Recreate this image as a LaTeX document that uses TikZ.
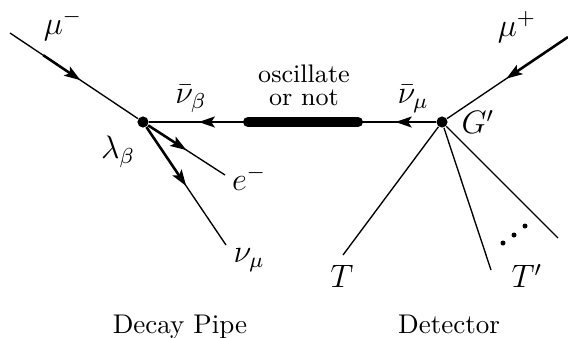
\documentclass[tikz,border=0pt]{standalone}
\usepackage{amsmath}
\usetikzlibrary{arrows.meta, decorations.markings, calc}
\tikzset{
  fermion/.style={
    postaction={decorate},
    decoration={markings, mark=at position #1 with {\arrow{Stealth[length=6pt, width=4pt, inset=1.3pt]}}}
  },
  fermion/.default=0.5,
  thinline/.style={line width=0.5pt},
  heavy/.style={line width=0.95pt},
  arrowed/.style={heavy, -{Stealth[length=6pt, width=4pt, inset=1.3pt]}},
  vertex/.style={circle, fill=black, inner sep=0pt, minimum size=1.45mm},
  tinydot/.style={circle, fill=black, inner sep=0pt, minimum size=0.65mm},
  lbl/.style={inner sep=1pt, font=\large},
  caption/.style={inner sep=0pt, anchor=base},
  osctext/.style={caption, font=\fontsize{9.4pt}{10pt}\selectfont},
}
\begin{document}
\begin{tikzpicture}[x=0.13mm, y=-0.13mm]
\useasboundingbox (0,0) rectangle (568,337);

%% --- vertices and free ends ------------------------------------------------
\node[vertex] (vL) at (143,122) {};
\node[vertex] (vR) at (442,122) {};
\coordinate (muminus) at (10,33);
\coordinate (muplus) at (568,37);
\coordinate (eend) at (225,175);
\coordinate (nuend) at (226,245);
\coordinate (barL) at (248,122);
\coordinate (barR) at (358,122);
\coordinate (tend) at (343,255);
\coordinate (tpend) at (491,270);
\coordinate (jetend) at (558,238);

%% --- incoming muons ---------------------------------------------------------
\draw[thinline] (muminus) -- ($(muminus)!0.26!(vL)$);
\draw[arrowed] ($(muminus)!0.25!(vL)$) -- ($(muminus)!0.53!(vL)$);
\draw[thinline] ($(muminus)!0.5!(vL)$) -- (vL);
\draw[arrowed] (muplus) -- ($(muplus)!0.49!(vR)$);
\draw[thinline] ($(muplus)!0.46!(vR)$) -- (vR);

%% --- decay products at the pipe ---------------------------------------------
\draw[arrowed] (vL) -- ($(vL)!0.53!(eend)$);
\draw[thinline] ($(vL)!0.5!(eend)$) -- (eend);
\draw[arrowed] (vL) -- ($(vL)!0.52!(nuend)$);
\draw[thinline] ($(vL)!0.49!(nuend)$) -- (nuend);

%% --- neutrino line with oscillation region ----------------------------------
\draw[heavy, fermion=0.52] (vR) -- (barR);
\draw[line width=1.3mm, line cap=round] (barR) -- (barL);
\draw[heavy, fermion=0.5] (barL) -- (vL);

%% --- detector tracks ---------------------------------------------------------
\draw[thinline] (vR) -- (tend);
\draw[thinline] (vR) -- (tpend);
\draw[thinline] (vR) -- (jetend);
\node[tinydot] (d1) at (503,243) {};
\node[tinydot] (d2) at (514,235) {};
\node[tinydot] (d3) at (525,226) {};

%% --- labels -------------------------------------------------------------------
\node[lbl] (lmum) at (63,25) {$\mu^-$};
\node[lbl] (lmup) at (517,27) {$\mu^+$};
\node[lbl] (lnub) at (191,99) {$\bar\nu_\beta$};
\node[lbl] (lnum) at (413,99) {$\bar\nu_\mu$};
\node[osctext] (losc) at (304,82) {oscillate};
\node[osctext] (lornot) at (304,105) {or not};
\node[lbl] (llam) at (118,152) {$\lambda_\beta$};
\node[lbl] (lG) at (478,122) {$G'$};
\node[lbl] (le) at (249,178) {$e^-$};
\node[lbl] (lnu) at (249,260) {$\nu_\mu$};
\node[lbl] (lT) at (342,276) {$T$};
\node[lbl] (lTp) at (527,276) {$T'$};
\node[caption] (ldecay) at (180,333) {Decay Pipe};
\node[caption] (ldet) at (449,333) {Detector};

\end{tikzpicture}
\end{document}
